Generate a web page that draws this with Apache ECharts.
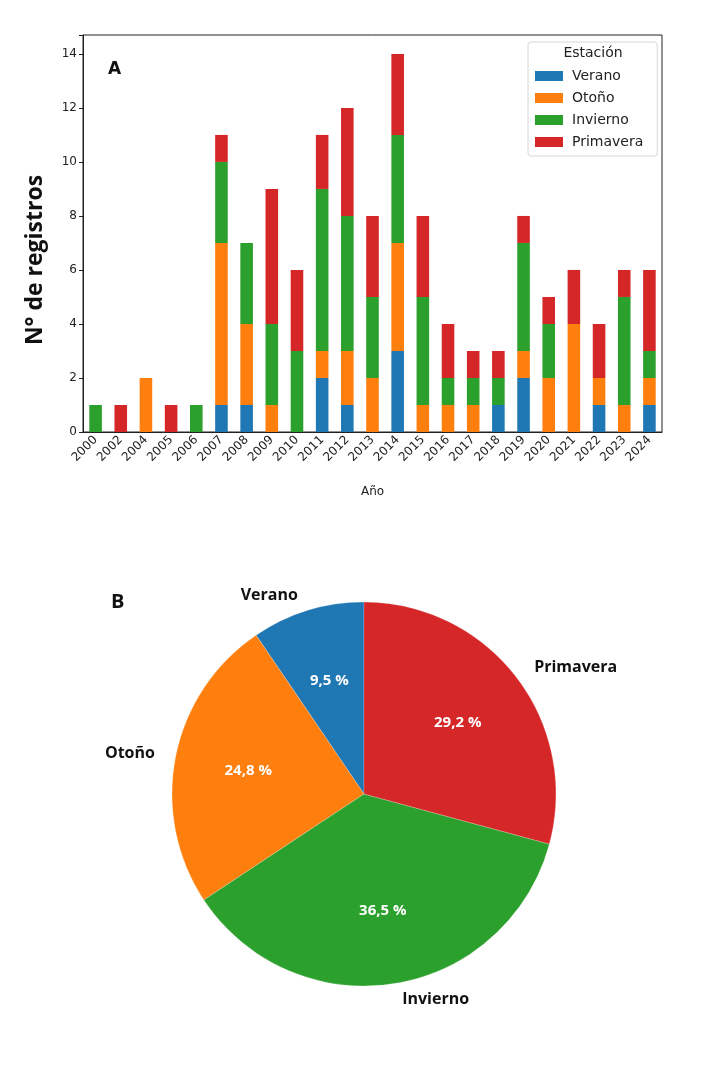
<!DOCTYPE html>
<html>
<head>
<meta charset="utf-8">
<script src="https://cdn.jsdelivr.net/npm/echarts@6/dist/echarts.min.js"></script>
<style>
  html, body { margin: 0; padding: 0; background: #fff; }
  #main { width: 708px; height: 1066px; }
</style>
</head>
<body>
<div id="main"></div>
<script>
// years on the x axis
const years = ['2000', '2002', '2004', '2005', '2006', '2007', '2008', '2009', '2010', '2011', '2012',
    '2013', '2014', '2015', '2016', '2017', '2018', '2019', '2020', '2021', '2022', '2023', '2024']

// records per season and year
const verano    = [0, 0, 0, 0, 0, 1, 1, 0, 0, 2, 1, 0, 3, 0, 0, 0, 1, 2, 0, 0, 1, 0, 1]
const otono     = [0, 0, 2, 0, 0, 6, 3, 1, 0, 1, 2, 2, 4, 1, 1, 1, 0, 1, 2, 4, 1, 1, 1]
const invierno  = [1, 0, 0, 0, 1, 3, 3, 3, 3, 6, 5, 3, 4, 4, 1, 1, 1, 4, 2, 0, 0, 4, 1]
const primavera = [0, 1, 0, 1, 0, 1, 0, 5, 3, 2, 4, 3, 3, 3, 2, 1, 1, 1, 1, 2, 2, 1, 3]

// pie B (percent)
const seasons = ['Verano', 'Otoño', 'Invierno', 'Primavera']
const piePct = [9.5, 24.8, 36.5, 29.2]

const COLORS = ['#1f77b4', '#ff7f0e', '#2ca02c', '#d62728']
const TICK_FONT = 'DejaVu Sans'

const barSeries = [verano, otono, invierno, primavera].map((data, i) => ({
    name: seasons[i],
    type: 'bar',
    stack: 'total',
    barWidth: '50%',
    data: data,
    itemStyle: { color: COLORS[i] }
}))

const pieData = seasons.map((name, i) => ({ name, value: piePct[i], itemStyle: { color: COLORS[i] } }))
const pct = v => v.toFixed(1).replace('.', ',') + ' %'

const option = {
    animation: false,
    backgroundColor: '#fff',
    color: COLORS,
    grid: {
        left: 83, right: 46, top: 35, bottom: 634,
        show: true, borderColor: '#222', borderWidth: 1
    },
    legend: {
        data: seasons,
        orient: 'vertical',
        left: 528, top: 42,
        padding: [27, 14, 7, 7],
        itemWidth: 28, itemHeight: 10, itemGap: 8,
        icon: 'rect',
        backgroundColor: '#fff',
        borderColor: '#d6d6d6', borderWidth: 1, borderRadius: 3,
        textStyle: { fontFamily: TICK_FONT, fontSize: 14, color: '#222', padding: [0, 0, 0, 4] }
    },
    xAxis: {
        type: 'category',
        data: years,
        name: 'Año',
        nameLocation: 'middle',
        nameGap: 54,
        nameTextStyle: { fontFamily: TICK_FONT, fontSize: 12, color: '#222' },
        axisLine: { lineStyle: { color: '#222' } },
        axisTick: { alignWithLabel: true, length: 4, lineStyle: { color: '#222' } },
        axisLabel: { rotate: 45, fontFamily: TICK_FONT, fontSize: 12, color: '#222', margin: 6 }
    },
    yAxis: {
        type: 'value',
        min: 0, max: 14.7, interval: 2,
        splitLine: { show: false },
        axisLine: { show: true, lineStyle: { color: '#222' } },
        axisTick: { show: true, length: 4, lineStyle: { color: '#222' } },
        axisLabel: {
            fontFamily: TICK_FONT, fontSize: 12, color: '#222', margin: 6,
            formatter: v => (Number.isInteger(v) ? String(v) : '')
        }
    },
    graphic: [
        { type: 'text', z: 100, left: 108, top: 61, style: { text: 'A', font: 'bold 17px "DejaVu Sans"', fill: '#111' } },
        { type: 'text', z: 100, x: 593, y: 46, style: { text: 'Estación', font: '14px "DejaVu Sans"', fill: '#222', textAlign: 'center' } },
        {
            type: 'text', z: 100, x: 35, y: 260, rotation: Math.PI / 2,
            style: { text: 'N° de registros', font: 'bold 23px "Open Sans"', fill: '#111', textAlign: 'center', textVerticalAlign: 'middle' }
        },
        { type: 'text', z: 100, left: 111, top: 592, style: { text: 'B', font: 'bold 20px "Open Sans"', fill: '#111' } }
    ],
    series: barSeries.concat([
        {
            type: 'pie',
            center: [364, 794],
            radius: 192,
            startAngle: 90,
            clockwise: false,
            silent: true,
            data: pieData,
            itemStyle: { borderColor: 'rgba(255,255,255,0.4)', borderWidth: 0.5 },
            label: {
                position: 'outside',
                formatter: '{b}',
                fontFamily: 'Open Sans', fontWeight: 'bold', fontSize: 16, color: '#111'
            },
            labelLine: { show: false, length: 16, length2: 0 }
        },
        {
            // invisible overlay so the percentages sit at 0.6 of the radius
            type: 'pie',
            center: [364, 794],
            radius: [0, 230],
            startAngle: 90,
            clockwise: false,
            silent: true,
            data: pieData.map(d => ({ name: d.name, value: d.value })),
            itemStyle: { color: 'rgba(0,0,0,0)' },
            label: {
                position: 'inside',
                formatter: p => pct(p.value),
                fontFamily: 'Open Sans', fontWeight: 'bold', fontSize: 15, color: '#fff'
            },
            labelLine: { show: false }
        }
    ])
}

const chart = echarts.init(document.getElementById('main'))
chart.setOption(option)
</script>
</body>
</html>
